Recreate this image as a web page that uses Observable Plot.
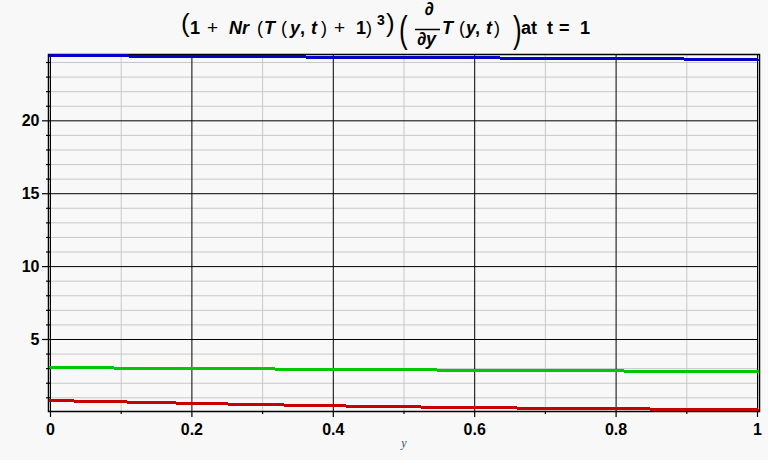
<!DOCTYPE html>
<html>
<head>
<meta charset="utf-8">
<script src="https://cdn.jsdelivr.net/npm/d3@7"></script>
<script src="https://cdn.jsdelivr.net/npm/@observablehq/plot@0.6"></script>
<style>
  html, body { margin: 0; padding: 0; background: #f8f8f8; }
  #wrap { position: relative; width: 768px; height: 460px; overflow: hidden; }
  #title { position: absolute; left: 0; top: 0; }
  #title text { font-family: "Liberation Sans", Arial, sans-serif; font-size: 18px; font-weight: bold; fill: #000; }
  #title .n { font-weight: normal; }
  #title .i { font-style: italic; }
  #title .bp { font-weight: normal; font-size: 26px; }
  #chart { position: absolute; left: 0; top: 0; }
</style>
</head>
<body>
<div id="wrap">
  <div id="chart"></div>
  <svg id="title" width="768" height="54" xmlns="http://www.w3.org/2000/svg">
    <text class="bp" x="181" y="31.5">(</text>
    <text x="190" y="34">1</text>
    <text class="n" x="207" y="34" style="font-size:19px">+</text>
    <text class="i" x="229" y="34">Nr</text>
    <text class="n" x="257" y="34">(</text>
    <text class="i" x="264" y="34">T</text>
    <text class="n" x="281" y="34">(</text>
    <text class="i" x="290" y="34">y</text>
    <text x="300" y="34">,</text>
    <text class="i" x="311" y="34">t</text>
    <text class="n" x="321" y="34">)</text>
    <text class="n" x="334" y="34" style="font-size:19px">+</text>
    <text x="356" y="34">1</text>
    <text class="n" x="366" y="34">)</text>
    <text x="377" y="25" style="font-size:14px">3</text>
    <text class="bp" x="386" y="31.5">)</text>
    <text class="bp" transform="translate(399,42) scale(1,1.45)" x="0" y="0">(</text>
    <text x="429" y="15" text-anchor="middle">∂</text>
    <line x1="415" x2="440" y1="29.5" y2="29.5" stroke="#000" stroke-width="1.5"></line>
    <text x="417" y="45">∂<tspan class="i">y</tspan></text>
    <text class="i" x="442" y="34">T</text>
    <text class="n" x="459" y="34">(</text>
    <text class="i" x="466" y="34">y</text>
    <text x="475" y="34">,</text>
    <text class="i" x="486" y="34">t</text>
    <text class="n" x="494" y="34">)</text>
    <text class="bp" transform="translate(513,42) scale(1,1.45)" x="0" y="0">)</text>
    <text x="521" y="34">at</text>
    <text x="547" y="34">t</text>
    <text x="559" y="34">=</text>
    <text x="580" y="34">1</text>
  </svg>
</div>
<script>
// y positions (horizontal axis)
const yPos = [0, 0.1, 0.2, 0.3, 0.4, 0.5, 0.6, 0.7, 0.8, 0.9, 1];
// series values
const upperVals  = [24.49, 24.45, 24.42, 24.39, 24.37, 24.34, 24.32, 24.29, 24.27, 24.24, 24.18];
const middleVals = [3.07, 3.04, 3.01, 2.98, 2.95, 2.92, 2.89, 2.87, 2.84, 2.82, 2.80];
const lowerVals  = [0.81, 0.72, 0.62, 0.53, 0.45, 0.38, 0.33, 0.28, 0.25, 0.21, 0.17];
const seriesNames = ["upper", "middle", "lower"];
const seriesColors = ["#0000c8", "#00c800", "#c80000"];

// ticks
const xMajor = [0, 0.2, 0.4, 0.6, 0.8, 1];
const xMinor = [0.1, 0.3, 0.5, 0.7, 0.9];
const xTickLabels = ["0", "0.2", "0.4", "0.6", "0.8", "1"];
const yMajor = [5, 10, 15, 20];
const yMinor = [1, 2, 3, 4, 6, 7, 8, 9, 11, 12, 13, 14, 16, 17, 18, 19, 21, 22, 23, 24];
const yTickLabels = ["5", "10", "15", "20"];
const xAxisLabel = "y";

const allVals = [upperVals, middleVals, lowerVals];
const data = allVals.flatMap((vals, si) => vals.map((v, i) => ({x: yPos[i], v, s: seriesNames[si]})));

const font = "Liberation Sans, Arial, sans-serif";

const chart = Plot.plot({
  width: 768,
  height: 460,
  marginLeft: 50,
  marginRight: 11,
  marginTop: 54,
  marginBottom: 49,
  style: {background: "transparent", fontFamily: font, color: "#000", overflow: "visible"},
  x: {domain: [0, 1], axis: null},
  y: {domain: [0.06, 24.55], axis: null},
  color: {domain: seriesNames, range: seriesColors},
  marks: [
    Plot.ruleX(xMinor, {stroke: "#c8c8c8", strokeWidth: 1}),
    Plot.ruleY(yMinor, {stroke: "#c8c8c8", strokeWidth: 1}),
    Plot.ruleX(xMajor, {stroke: "#000", strokeWidth: 1}),
    Plot.ruleY(yMajor, {stroke: "#000", strokeWidth: 1}),
    Plot.frame({stroke: "#000", strokeWidth: 1.5, insetLeft: -2, insetRight: -2}),
    Plot.line(data, {x: "x", y: "v", z: "s", stroke: "s", strokeWidth: 3, shapeRendering: "crispEdges"}),
    Plot.axisX({ticks: xMajor, tickSize: 6, tickPadding: 6, tickFormat: (d) => xTickLabels[xMajor.indexOf(d)],
      fontSize: 16, fontWeight: "bold", label: null, stroke: "#000", strokeWidth: 1.2}),
    Plot.axisX({ticks: xMinor, tickSize: 3, tickFormat: () => "", label: null, strokeWidth: 1.2}),
    Plot.axisY({ticks: yMajor, tickSize: 8, tickPadding: 3, tickFormat: (d) => yTickLabels[yMajor.indexOf(d)],
      fontSize: 16, fontWeight: "bold", label: null, strokeWidth: 1.2}),
    Plot.axisY({ticks: yMinor, tickSize: 4, tickFormat: () => "", label: null, strokeWidth: 1.2}),
    Plot.text([xAxisLabel], {frameAnchor: "bottom", text: d => d, dy: 35, fontStyle: "italic",
      fontFamily: "Liberation Serif, DejaVu Serif, serif", fontSize: 12, fill: "#2f4f7f"})
  ]
});
document.getElementById("chart").appendChild(chart);
</script>
</body>
</html>
